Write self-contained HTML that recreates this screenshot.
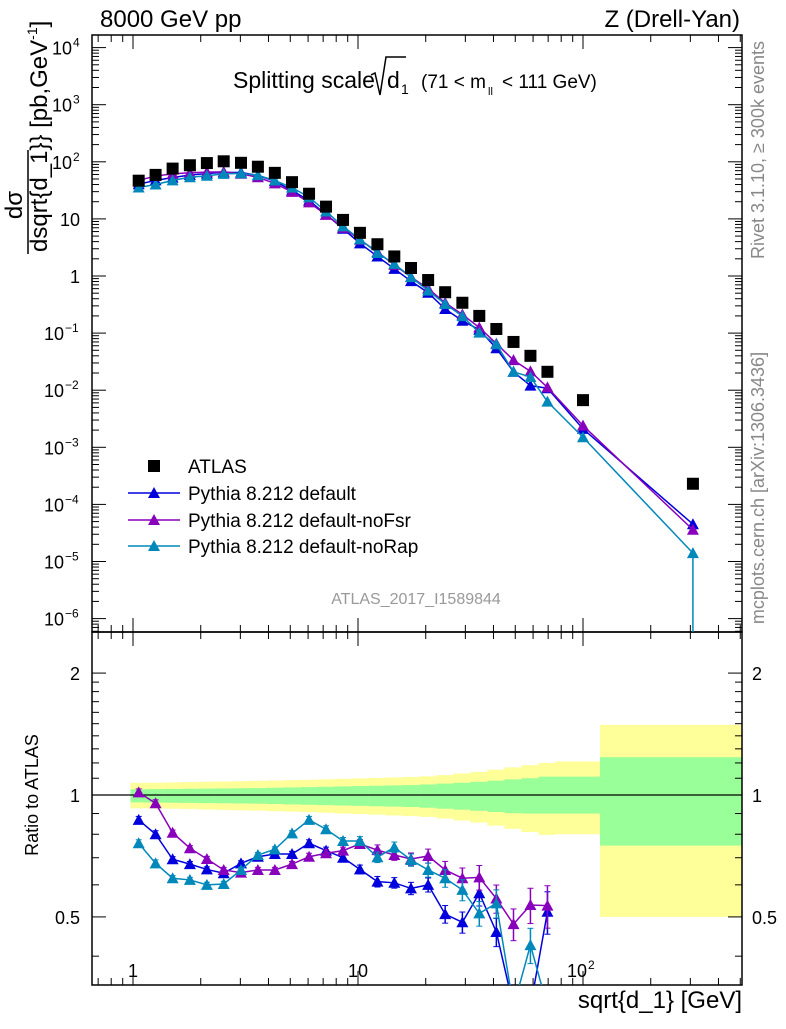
<!DOCTYPE html>
<html><head><meta charset="utf-8"><style>
body{margin:0;background:#fff;}
svg text{font-family:"Liberation Sans",sans-serif;}
</style></head><body>
<svg id="c" width="786" height="1024" xmlns="http://www.w3.org/2000/svg"></svg>
<script>
// ---- data ----
const xCenters=[1.06,1.26,1.50,1.79,2.13,2.53,3.02,3.59,4.27,5.09,6.06,7.21,8.58,10.2,12.2,14.5,17.2,20.5,24.4,29.1,34.6,41.2,49.1,58.4,69.5,100,308];
const binEdges=[0.975,1.16,1.38,1.643,1.955,2.327,2.768,3.295,3.921,4.666,5.552,6.607,7.862,9.357,11.13,13.25,15.77,18.76,22.33,26.57,31.62,37.63,44.78,53.29,63.42,75.47,119,600];
const atlas=[46.7,59,76,87,95,102,96,82,64,44,27.6,16.4,9.6,5.7,3.6,2.2,1.38,0.85,0.52,0.34,0.2,0.118,0.07,0.04,0.021,0.0067,0.00023];
const ratioDefault=[0.868,0.80,0.694,0.675,0.655,0.641,0.678,0.704,0.715,0.715,0.76,0.729,0.70,0.655,0.611,0.607,0.588,0.60,0.508,0.485,0.572,0.459,0.30,0.30,0.515];
const ratioNoFsr=[1.015,0.954,0.807,0.739,0.695,0.653,0.643,0.653,0.653,0.675,0.704,0.718,0.729,0.757,0.731,0.711,0.695,0.707,0.653,0.623,0.626,0.555,0.48,0.535,0.533];
const ratioNoRap=[0.76,0.678,0.623,0.617,0.600,0.603,0.653,0.711,0.734,0.804,0.868,0.823,0.77,0.77,0.702,0.743,0.691,0.653,0.623,0.583,0.51,0.54,0.30,0.426,0.30];
const tailDefault=[0.0021,0.000045];
const tailNoFsr=[0.0024,0.000036];
const tailNoRap=[0.0015,0.000014];
const ratioErr=[0.02,0.02,0.015,0.015,0.015,0.015,0.015,0.015,0.015,0.015,0.02,0.02,0.02,0.025,0.03,0.03,0.035,0.04,0.05,0.06,0.07,0.08,0.09,0.1,0.12];
const yellowUp=[1.072,1.072,1.074,1.076,1.078,1.08,1.082,1.084,1.086,1.088,1.09,1.093,1.096,1.099,1.102,1.105,1.108,1.112,1.12,1.13,1.14,1.155,1.17,1.185,1.20,1.21,1.49];
const yellowDn=[0.927,0.926,0.925,0.923,0.921,0.919,0.917,0.915,0.912,0.91,0.907,0.904,0.90,0.897,0.894,0.89,0.887,0.883,0.875,0.865,0.855,0.84,0.825,0.81,0.797,0.80,0.50];
const greenUp=[1.033,1.034,1.035,1.036,1.037,1.038,1.039,1.04,1.042,1.044,1.046,1.048,1.05,1.052,1.054,1.056,1.058,1.062,1.067,1.072,1.078,1.085,1.093,1.10,1.11,1.11,1.24];
const greenDn=[0.959,0.958,0.957,0.956,0.955,0.954,0.953,0.952,0.95,0.948,0.946,0.944,0.942,0.94,0.938,0.936,0.934,0.93,0.925,0.92,0.914,0.908,0.902,0.90,0.90,0.90,0.75];

// ---- geometry ----
const L=92,R=742,T=35,MB=632,RB=985;
const X=v=>133+225*Math.log10(v);
const Y=v=>276-57.1*Math.log10(v);
const RY=v=>795-405*Math.log10(v);
const svg=document.getElementById('c');
const NS='http://www.w3.org/2000/svg';
function mk(tag,attrs,parent){const e=document.createElementNS(NS,tag);for(const k in attrs)e.setAttribute(k,attrs[k]);(parent||svg).appendChild(e);return e;}
function txt(s,x,y,attrs,parent){const e=mk('text',Object.assign({x:x,y:y},attrs),parent);e.textContent=s;return e;}

const cm=mk('clipPath',{id:'cm'});mk('rect',{x:L,y:T,width:R-L,height:MB-T},cm);
const cr=mk('clipPath',{id:'cr'});mk('rect',{x:L,y:MB,width:R-L,height:RB-MB},cr);

// ratio bands
const gBand=mk('g',{'clip-path':'url(#cr)'});


for(let i=0;i<xCenters.length;i++){
  const x0=X(binEdges[i]),x1=X(binEdges[i+1]);
  const y=mk('rect',{x:x0,y:RY(yellowUp[i]),width:x1-x0,height:RY(yellowDn[i])-RY(yellowUp[i]),fill:'#ffff99'},gBand);
  
  
  const g=mk('rect',{x:x0,y:RY(greenUp[i]),width:x1-x0,height:RY(greenDn[i])-RY(greenUp[i]),fill:'#99ff99'},gBand);
  
  
}
mk('line',{x1:L,x2:R,y1:RY(1),y2:RY(1),stroke:'#000','stroke-width':1.2});

// frames
const f1=mk('rect',{x:L,y:T,width:R-L,height:MB-T,fill:'none',stroke:'#000','stroke-width':1.5});

const f2=mk('rect',{x:L,y:MB,width:R-L,height:RB-MB,fill:'none',stroke:'#000','stroke-width':1.5});


// x ticks
const xt=[];for(let d=0;d<3;d++)for(let m=1;m<10;m++)xt.push([m*Math.pow(10,d),m===1]);
for(const m of [7,8,9])xt.push([m/10,false]);
for(const[v,maj] of xt){const x=X(v);if(x<L||x>R)continue;const h=maj?14:7;
  for(const[yb,yt] of [[MB,T],[RB,MB]]){mk('line',{x1:x,x2:x,y1:yb,y2:yb-h,stroke:'#000'});mk('line',{x1:x,x2:x,y1:yt,y2:yt+h,stroke:'#000'});}}
txt('1',X(1),977,{'text-anchor':'middle','font-size':18,});
txt('10',X(10),977,{'text-anchor':'middle','font-size':18,});
txt('10',X(100)-6,977,{'text-anchor':'middle','font-size':18,});
txt('2',X(100)+5,969,{'font-size':12});

// main y ticks
for(let e=-7;e<=4;e++){for(let m=1;m<10;m++){const v=m*Math.pow(10,e);const y=Y(v);if(y<T||y>MB)continue;const h=m===1?14:7;
  mk('line',{x1:L,x2:L+h,y1:y,y2:y,stroke:'#000'});mk('line',{x1:R,x2:R-h,y1:y,y2:y,stroke:'#000'});}}
for(let e=-6;e<=4;e++){const y=Y(Math.pow(10,e))+7;
  if(e===0){txt('1',80,y,{'text-anchor':'end','font-size':18});}
  else if(e===1){txt('10',80,y,{'text-anchor':'end','font-size':18});}
  else{const sup=String(e).replace('-','−');const w=sup.length*8;
    txt('10',80-w,y,{'text-anchor':'end','font-size':18});txt(sup,80-w+1,y-8,{'font-size':12});}
}
// ratio y ticks
for(const v of [0.4,0.5,0.6,0.7,0.8,0.9,1,1.1,1.2,1.3,1.4,1.5,1.6,1.7,1.8,1.9,2]){const y=RY(v);const maj=(v===0.5||v===1||v===2);const h=maj?14:7;
  mk('line',{x1:L,x2:L+h,y1:y,y2:y,stroke:'#000'});mk('line',{x1:R,x2:R-h,y1:y,y2:y,stroke:'#000'});}
for(const[v,s] of [[2,'2'],[1,'1'],[0.5,'0.5']]){txt(s,80,RY(v)+7,{'text-anchor':'end','font-size':18});txt(s,752,RY(v)+7,{'font-size':18});}

// series
const cols={def:'#0000dd',fsr:'#8800bb',rap:'#0088bb'};
const series=[['pythia-default',ratioDefault,tailDefault,cols.def],['pythia-default-nofsr',ratioNoFsr,tailNoFsr,cols.fsr],['pythia-default-norap',ratioNoRap,tailNoRap,cols.rap]];
function tri(x,y,c,p){return mk('path',{d:`M${x-6},${y+5}L${x+6},${y+5}L${x},${y-6}Z`,fill:c},p);}
const gm=mk('g',{'clip-path':'url(#cm)'});
const gr=mk('g',{'clip-path':'url(#cr)'});
for(const[name,rat,tail,c] of series){
  const main=atlas.slice(0,25).map((a,i)=>a*rat[i]).concat(tail);
  const g=mk('g',{},gm);
  
  
  mk('polyline',{points:main.map((v,i)=>X(xCenters[i])+','+Y(v)).join(' '),fill:'none',stroke:c,'stroke-width':1.5},g);
  main.forEach((v,i)=>{const t=tri(X(xCenters[i]),Y(v),c,g);});
  const g2=mk('g',{},gr);
  
  
  mk('polyline',{points:rat.map((v,i)=>X(xCenters[i])+','+RY(v)).join(' '),fill:'none',stroke:c,'stroke-width':1.5},g2);
  rat.forEach((v,i)=>{const x=X(xCenters[i]);const e=ratioErr[i];
    mk('line',{x1:x,x2:x,y1:RY(v*(1+e)),y2:RY(v*(1-e)),stroke:c,'stroke-width':1.5},g2);
    mk('line',{x1:x-3,x2:x+3,y1:RY(v*(1+e)),y2:RY(v*(1+e)),stroke:c},g2);
    mk('line',{x1:x-3,x2:x+3,y1:RY(v*(1-e)),y2:RY(v*(1-e)),stroke:c},g2);
    const t=tri(x,RY(v),c,g2);});
}
mk('line',{x1:X(308),x2:X(308),y1:Y(0.000014),y2:MB,stroke:cols.rap,'stroke-width':1.5});
// atlas
const ga=mk('g',{'clip-path':'url(#cm)'});


atlas.forEach((v,i)=>{const s=mk('rect',{x:X(xCenters[i])-6,y:Y(v)-6,width:12,height:12,fill:'#000'},ga);
  });

// legend
const lg=mk('g',{});


mk('rect',{x:148,y:460,width:12,height:12,fill:'#000'},lg);
txt('ATLAS',188,473,{'font-size':19},lg);
[['Pythia 8.212 default',cols.def,493],['Pythia 8.212 default-noFsr',cols.fsr,520],['Pythia 8.212 default-noRap',cols.rap,546]].forEach(([s,c,y])=>{
  mk('line',{x1:128,x2:180,y1:y,y2:y,stroke:c,'stroke-width':1.5},lg);tri(154,y,c,lg);txt(s,188,y+7,{'font-size':19},lg);});

// texts
txt('8000 GeV pp',100,27,{'font-size':24,});
txt('Z (Drell-Yan)',740,27,{'text-anchor':'end','font-size':24,});
const tg=mk('g',{});
txt('Splitting scale',233,88,{'font-size':23},tg);
mk('path',{d:'M371,75 L375,73 L380,95 L386,57 L406,57',fill:'none',stroke:'#000','stroke-width':1.5},tg);
txt('d',387,88,{'font-size':23},tg);txt('1',401,94,{'font-size':14},tg);
txt('(71 < m',421,88,{'font-size':19},tg);txt('ll',488,95,{'font-size':11},tg);txt('< 111 GeV)',502,88,{'font-size':19},tg);
txt('ATLAS_2017_I1589844',416,604,{'text-anchor':'middle','font-size':16,fill:'#999',});
txt('Rivet 3.1.10, ≥ 300k events',764,150,{'text-anchor':'middle','font-size':18,fill:'#888',transform:'rotate(-90 764 150)',});
txt('mcplots.cern.ch [arXiv:1306.3436]',764,488,{'text-anchor':'middle','font-size':18,fill:'#888',transform:'rotate(-90 764 488)',});
txt('sqrt{d_1} [GeV]',742,1008,{'text-anchor':'end','font-size':24,});
txt('Ratio to ATLAS',38,795,{'text-anchor':'middle','font-size':18,transform:'rotate(-90 38 795)',});
const yt=mk('g',{transform:'rotate(-90)'});

txt('dσ',-205,22,{'font-size':24,'text-anchor':'middle'},yt);
mk('line',{x1:-254,x2:-150,y1:28,y2:28,stroke:'#000','stroke-width':1.5},yt);
const dt=txt('dsqrt{d_1}} [pb,GeV',-252,47,{'font-size':24},yt);
const sp=mk('tspan',{'font-size':14,dy:-10},dt);sp.textContent='-1';
const sp2=mk('tspan',{dy:10},dt);sp2.textContent=']';
</script>
</body></html>
